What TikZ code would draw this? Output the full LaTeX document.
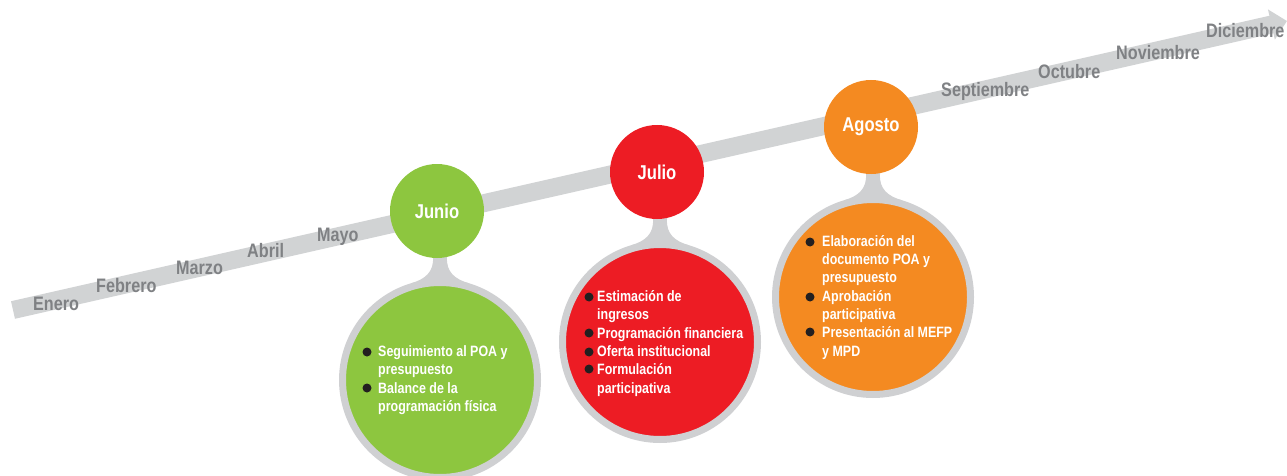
\documentclass[tikz,border=0pt]{standalone}
\usepackage{fontspec}
\setmainfont{Liberation Sans}[FakeStretch=0.83]
\usepackage{xcolor}
\usepackage{tikz}
\usetikzlibrary{arrows.meta}

\definecolor{bandgray}{HTML}{D1D3D4}
\definecolor{ringgray}{HTML}{CFD0D2}
\definecolor{labelgray}{HTML}{7F8184}
\definecolor{junegreen}{HTML}{8DC63F}
\definecolor{julyred}{HTML}{ED1C24}
\definecolor{augorange}{HTML}{F48A21}
\definecolor{dotblack}{HTML}{231F20}

\begin{document}
\begin{tikzpicture}[x=1pt, y=-1pt]
\tikzstyle{band} = [line width=18pt, draw=bandgray, -{Triangle[length=16pt, width=30pt]}]
\tikzstyle{month} = [anchor=base west, inner sep=0pt, text=labelgray,
    font=\fontsize{19.5}{20}\selectfont\bfseries]
\tikzstyle{title} = [circle, minimum size=94pt, inner sep=0pt, text=white,
    font=\fontsize{20}{22}\selectfont\bfseries]
\tikzstyle{bigring} = [circle, minimum size=195pt, inner sep=0pt, draw=ringgray, line width=7pt]
\tikzstyle{neck} = [fill=ringgray]
\tikzstyle{item} = [anchor=base west, inner sep=0pt, text=white,
    font=\fontsize{15}{18}\selectfont\bfseries]
\tikzstyle{dot} = [circle, fill=dotblack, minimum size=9pt, inner sep=0pt]

\useasboundingbox (0,0) rectangle (1287,476);

% Timeline
\coordinate (start) at (13,310);
\coordinate (end) at (1287,21);
\draw [band] (start) -- (end);

% Months
\node [month] (ene) at (33,310) {Enero};
\node [month] (feb) at (96,292) {Febrero};
\node [month] (mar) at (176,274) {Marzo};
\node [month] (abr) at (247,257) {Abril};
\node [month] (may) at (317,241) {Mayo};
\node [month] (sep) at (941,97) {Septiembre};
\node [month] (oct) at (1038,79) {Octubre};
\node [month] (nov) at (1116,60) {Noviembre};
\node [month] (dic) at (1206,38) {Diciembre};

% Bubbles
\coordinate (junc) at (440,380);
\coordinate (julc) at (660,342);
\coordinate (agoc) at (873,297);
\fill [neck, shift={(junc)}] (-7,-140) -- (-7,-123) .. controls (-6,-108) and (-15,-101) .. (-28,-97)
    -- (28,-97) .. controls (15,-101) and (6,-108) .. (7,-123) -- (7,-140) -- cycle;
\fill [neck, shift={(julc)}] (-7,-140) -- (-7,-123) .. controls (-6,-108) and (-15,-101) .. (-28,-97)
    -- (28,-97) .. controls (15,-101) and (6,-108) .. (7,-123) -- (7,-140) -- cycle;
\fill [neck, shift={(agoc)}] (-7,-140) -- (-7,-123) .. controls (-6,-108) and (-15,-101) .. (-28,-97)
    -- (28,-97) .. controls (15,-101) and (6,-108) .. (7,-123) -- (7,-140) -- cycle;

\node [bigring, fill=junegreen] (junbig) at (junc) {};
\node [bigring, fill=julyred] (julbig) at (julc) {};
\node [bigring, fill=augorange] (agobig) at (agoc) {};

\node [title, fill=junegreen] (jun) at (437,211) {Junio};
\node [title, fill=julyred] (jul) at (657,172) {Julio};
\node [title, fill=augorange] (ago) at (871,127) {Agosto};

% Junio tasks
\node [dot] (jundot1) at (367,352) {};
\node [item] (jun1) at (378,356) {Seguimiento al POA y};
\node [item] (jun2) at (378,374) {presupuesto};
\node [dot] (jundot2) at (367,388) {};
\node [item] (jun3) at (378,393) {Balance de la};
\node [item] (jun4) at (378,411) {programación física};

% Julio tasks
\node [dot] (juldot1) at (589,297) {};
\node [item] (jul1) at (597,301) {Estimación de};
\node [item] (jul2) at (597,319) {ingresos};
\node [dot] (juldot2) at (589,333) {};
\node [item] (jul3) at (597,338) {Programación financiera};
\node [dot] (juldot3) at (589,352) {};
\node [item] (jul4) at (597,356) {Oferta institucional};
\node [dot] (juldot4) at (589,369) {};
\node [item] (jul5) at (597,374) {Formulación};
\node [item] (jul6) at (597,393) {participativa};

% Agosto tasks
\node [dot] (agodot1) at (810,242) {};
\node [item] (ago1) at (822,246) {Elaboración del};
\node [item] (ago2) at (822,264) {documento POA y};
\node [item] (ago3) at (822,282) {presupuesto};
\node [dot] (agodot2) at (810,297) {};
\node [item] (ago4) at (822,301) {Aprobación};
\node [item] (ago5) at (822,319) {participativa};
\node [dot] (agodot3) at (810,332) {};
\node [item] (ago6) at (822,337) {Presentación al MEFP};
\node [item] (ago7) at (822,356) {y MPD};
\end{tikzpicture}
\end{document}
